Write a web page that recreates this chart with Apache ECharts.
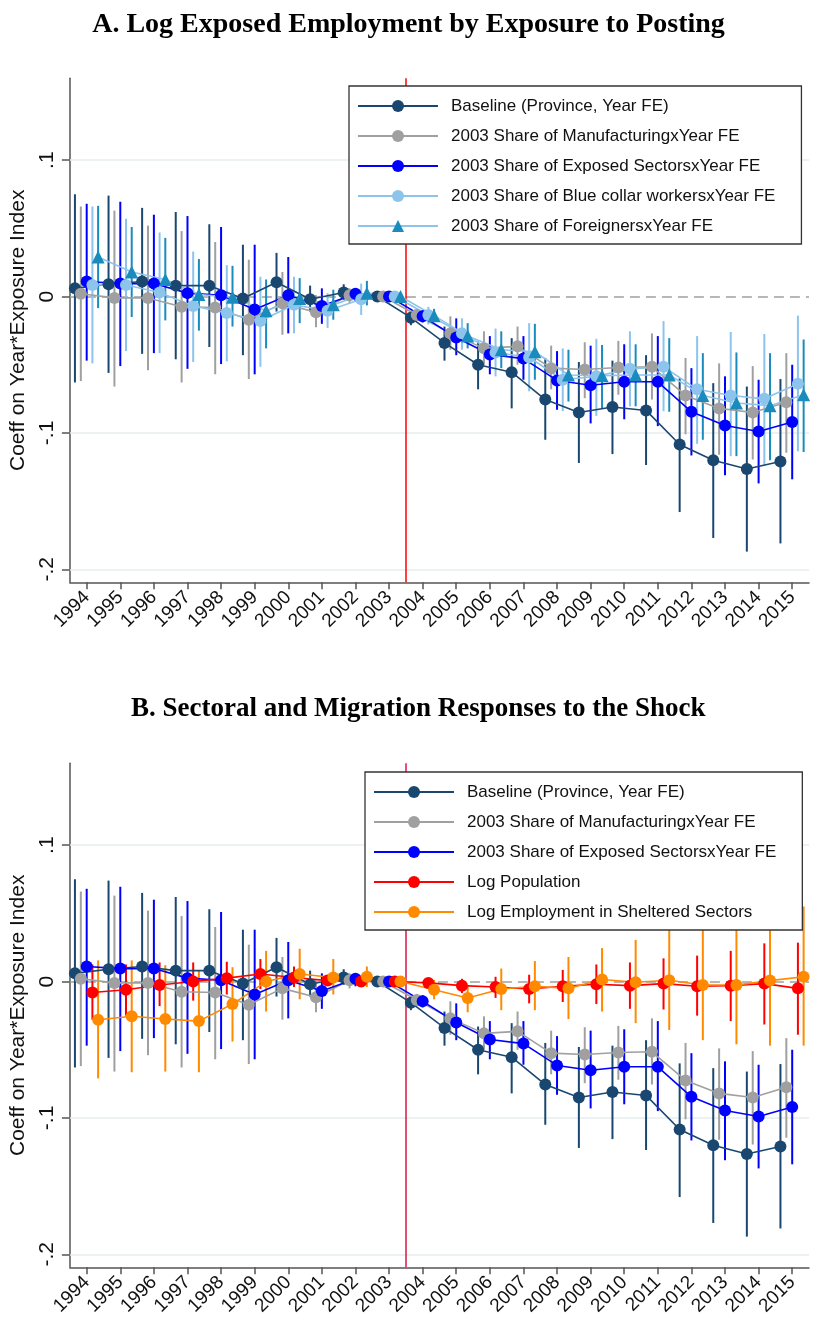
<!DOCTYPE html>
<html>
<head>
<meta charset="utf-8">
<script src="https://cdn.jsdelivr.net/npm/echarts@6/dist/echarts.min.js"></script>
<style>html,body{margin:0;padding:0;background:#fff;}#chart{width:817px;height:1320px;}</style>
</head>
<body>
<div id="chart"></div>
<script>
// ---- Data ----
const years = [1994,1995,1996,1997,1998,1999,2000,2001,2002,2003,2004,2005,2006,2007,2008,2009,2010,2011,2012,2013,2014,2015];
const yTicks = [-0.2, -0.1, 0, 0.1];

const baseCoef = [0.006,0.009,0.011,0.008,0.008,-0.0015,0.0105,-0.002,0.003,0,-0.0155,-0.034,-0.050,-0.0555,-0.0755,-0.085,-0.081,-0.0835,-0.1085,-0.120,-0.1265,-0.121];
const baseHi   = [0.075,0.074,0.065,0.062,0.053,0.038,0.032,0.008,0.009,0,-0.011,-0.022,-0.033,-0.0305,-0.045,-0.048,-0.047,-0.043,-0.060,-0.0635,-0.066,-0.0605];
const baseLo   = [-0.063,-0.056,-0.042,-0.046,-0.037,-0.043,-0.011,-0.011,-0.0025,0,-0.021,-0.047,-0.068,-0.082,-0.105,-0.122,-0.1155,-0.1235,-0.158,-0.177,-0.187,-0.181];

const manuCoef = [0.002,-0.001,-0.001,-0.0075,-0.008,-0.017,-0.005,-0.0115,0.001,0,-0.0135,-0.027,-0.038,-0.0365,-0.0525,-0.0535,-0.052,-0.0515,-0.0725,-0.082,-0.085,-0.0775];
const manuHi   = [0.066,0.063,0.052,0.048,0.040,0.027,0.018,0.001,0.006,0,-0.009,-0.0145,-0.0255,-0.022,-0.036,-0.0335,-0.0325,-0.027,-0.045,-0.049,-0.051,-0.0415];
const manuLo   = [-0.062,-0.066,-0.054,-0.063,-0.057,-0.0605,-0.028,-0.0225,-0.005,0,-0.018,-0.039,-0.050,-0.050,-0.068,-0.0745,-0.072,-0.0755,-0.101,-0.116,-0.1195,-0.1145];

const expoCoef = [0.011,0.0095,0.0095,0.0025,0.001,-0.0095,0.001,-0.007,0.002,0,-0.0145,-0.030,-0.0425,-0.0455,-0.0615,-0.065,-0.0625,-0.0625,-0.0845,-0.0945,-0.099,-0.092];
const expoHi   = [0.068,0.0695,0.060,0.059,0.051,0.038,0.029,0.006,0.005,0,-0.010,-0.016,-0.029,-0.029,-0.040,-0.036,-0.035,-0.029,-0.0525,-0.0585,-0.061,-0.050];
const expoLo   = [-0.047,-0.051,-0.0415,-0.053,-0.0495,-0.057,-0.027,-0.020,-0.0035,0,-0.019,-0.043,-0.057,-0.061,-0.083,-0.093,-0.090,-0.095,-0.1165,-0.131,-0.137,-0.134];

const blueCoef = [0.0085,0.0085,0.003,-0.007,-0.012,-0.018,-0.006,-0.0105,-0.002,0,-0.0135,-0.027,-0.041,-0.0445,-0.061,-0.0585,-0.053,-0.0515,-0.068,-0.0725,-0.075,-0.064];
const blueHi   = [0.066,0.057,0.047,0.033,0.023,0.0145,0.0145,0.0025,0.0095,0,-0.0075,-0.016,-0.0235,-0.0195,-0.038,-0.031,-0.0255,-0.018,-0.029,-0.026,-0.0275,-0.014];
const blueLo   = [-0.049,-0.040,-0.0415,-0.048,-0.0475,-0.0515,-0.027,-0.023,-0.0135,0,-0.0205,-0.039,-0.0585,-0.0695,-0.084,-0.0875,-0.0805,-0.084,-0.108,-0.117,-0.1235,-0.1135];

const forCoef  = [0.029,0.018,0.0125,0.0015,-0.0005,-0.0105,-0.0015,-0.006,0.0025,0,-0.014,-0.029,-0.039,-0.0405,-0.0575,-0.058,-0.0575,-0.0575,-0.0725,-0.078,-0.080,-0.072];
const forHi    = [0.0665,0.051,0.043,0.0275,0.0225,0.0125,0.0135,0.005,0.0115,0,-0.009,-0.0195,-0.0255,-0.020,-0.039,-0.0355,-0.035,-0.0305,-0.0415,-0.041,-0.0415,-0.0315];
const forLo    = [-0.0085,-0.015,-0.0175,-0.025,-0.022,-0.038,-0.0195,-0.017,-0.0065,0,-0.0185,-0.038,-0.0525,-0.061,-0.077,-0.082,-0.0805,-0.0845,-0.105,-0.117,-0.120,-0.114];

const popCoef  = [-0.008,-0.006,-0.0025,0.0,0.0025,0.0055,0.003,0.0007,0.0,0,-0.001,-0.003,-0.004,-0.0055,-0.0035,-0.002,-0.003,-0.0015,-0.0035,-0.003,-0.0015,-0.005];
const popHi    = [0.0125,0.0125,0.014,0.014,0.0145,0.0165,0.011,0.004,0.003,0,0.002,0.002,0.0035,0.005,0.0085,0.0125,0.014,0.017,0.019,0.0225,0.028,0.0285];
const popLo    = [-0.028,-0.025,-0.018,-0.014,-0.0095,-0.0055,-0.004,-0.003,-0.003,0,-0.004,-0.0085,-0.012,-0.016,-0.015,-0.0165,-0.020,-0.0205,-0.025,-0.029,-0.0315,-0.039];

const shelCoef = [-0.028,-0.0255,-0.0275,-0.029,-0.0165,0.0,0.0055,0.003,0.0035,0,-0.006,-0.012,-0.0055,-0.0035,-0.005,0.0015,-0.0005,0.001,-0.0025,-0.0025,0.0007,0.0035];
const shelHi   = [0.0155,0.0155,0.012,0.008,0.0105,0.0225,0.024,0.0165,0.011,0,0.0012,-0.0025,0.0095,0.015,0.018,0.0245,0.0305,0.0415,0.045,0.044,0.0515,0.055];
const shelLo   = [-0.071,-0.0665,-0.066,-0.0665,-0.044,-0.022,-0.013,-0.0095,-0.004,0,-0.013,-0.0225,-0.021,-0.021,-0.0275,-0.022,-0.0305,-0.0355,-0.043,-0.046,-0.047,-0.047];

const nameBase = 'Baseline (Province, Year FE)';
const nameManu = '2003 Share of ManufacturingxYear FE';
const nameExpo = '2003 Share of Exposed SectorsxYear FE';
const nameBlue = '2003 Share of Blue collar workersxYear FE';
const nameFor  = '2003 Share of ForeignersxYear FE';
const namePop  = 'Log Population';
const nameShel = 'Log Employment in Sheltered Sectors';

// ---- Styling ----
const C = {
  base: '#1a476f', manu: '#a0a0a0', expo: '#0000ff', blue: '#8dc4ec', forM: '#1a8bbd',
  pop: '#ff0000', shel: '#ff8a00'
};
const OFF = [-0.35, -0.175, 0, 0.17, 0.34];
const FONT = 'Liberation Sans, Arial, Helvetica, sans-serif';
const SERIF = 'Liberation Serif, Times New Roman, serif';

function pts(coef, off) { return years.map((y, i) => [y + off, coef[i]]); }
function bars(lo, hi, off) { return years.map((y, i) => [y + off, lo[i], hi[i]]); }

function barSeries(lo, hi, off, color, gi) {
  return {
    type: 'custom', xAxisIndex: gi, yAxisIndex: gi, silent: true, z: 3,
    data: bars(lo, hi, off),
    encode: { x: 0, y: [1, 2] },
    renderItem: function (params, api) {
      const a = api.coord([api.value(0), api.value(1)]);
      const b = api.coord([api.value(0), api.value(2)]);
      if (Math.abs(a[1] - b[1]) < 0.5) return null;
      return { type: 'line', shape: { x1: a[0], y1: a[1], x2: b[0], y2: b[1] },
               style: { stroke: color, lineWidth: 2 } };
    }
  };
}
function lineSeries(name, coef, off, lineColor, markColor, symbol, gi) {
  return {
    type: 'line', name: name, xAxisIndex: gi, yAxisIndex: gi, z: 4,
    data: pts(coef, off),
    symbol: symbol, symbolSize: symbol === 'triangle' ? 13 : 12,
    lineStyle: { color: lineColor, width: 1.6 },
    itemStyle: { color: markColor },
    emphasis: { disabled: true }
  };
}
function refSeries(gi, redColor) {
  return {
    type: 'line', xAxisIndex: gi, yAxisIndex: gi, data: [], silent: true, z: 1,
    markLine: {
      silent: true, z: 1, symbol: ['none', 'none'], label: { show: false }, animation: false,
      data: [
        { yAxis: -0.2, lineStyle: { color: '#e6eef0', width: 1.5, type: 'solid' } },
        { yAxis: -0.1, lineStyle: { color: '#e6eef0', width: 1.5, type: 'solid' } },
        { yAxis: 0.1, lineStyle: { color: '#e6eef0', width: 1.5, type: 'solid' } },
        { yAxis: 0, lineStyle: { color: '#a0a0a0', width: 1.7, type: [10, 6] } },
        { xAxis: 2003.5, lineStyle: { color: redColor, width: 1.5, type: 'solid' } }
      ]
    }
  };
}
function fmtY(v) {
  if (Math.abs(v) < 1e-9) return '0';
  const s = (Math.round(Math.abs(v) * 10) / 10).toString().replace(/^0/, '');
  return (v < 0 ? '-' : '') + s;
}
function xAxis(gi) {
  return {
    gridIndex: gi, type: 'value', min: 1993.5, max: 2015.5,
    axisLine: { show: true, onZero: false, lineStyle: { color: '#555', width: 1.5 } },
    axisTick: { show: true, customValues: years, length: 7, lineStyle: { color: '#555', width: 1.5 } },
    axisLabel: { customValues: years, rotate: 45, fontSize: 19, color: '#111', margin: 12, fontFamily: FONT,
                 formatter: function (v) { return String(Math.round(v)); } },
    splitLine: { show: false }
  };
}
function yAxis(gi) {
  return {
    gridIndex: gi, type: 'value', min: -0.2095, max: 0.16,
    axisLine: { show: true, onZero: false, lineStyle: { color: '#555', width: 1.5 } },
    axisTick: { show: true, customValues: yTicks, length: 8, lineStyle: { color: '#555', width: 1.5 } },
    axisLabel: { customValues: yTicks, rotate: 90, fontSize: 21, color: '#111', margin: 12, fontFamily: FONT, formatter: fmtY },
    splitLine: { show: false },
    name: 'Coeff on Year*Exposure Index', nameLocation: 'middle', nameGap: 35,
    nameTextStyle: { fontSize: 21, color: '#111', fontFamily: FONT }
  };
}
function legend(names, left, top, padRight) {
  return {
    data: names, orient: 'vertical', left: left, top: top, z: 10,
    padding: [11, padRight, 9, 8], itemWidth: 80, itemHeight: 15, itemGap: 12,
    borderColor: '#333', borderWidth: 1.3, backgroundColor: '#fff', selectedMode: false,
    textStyle: { fontSize: 17, color: '#111', fontFamily: FONT, lineHeight: 18, padding: [0, 0, 0, 8] }
  };
}

const series = [
  refSeries(0, '#ff0000'),
  barSeries(baseLo, baseHi, OFF[0], C.base, 0), lineSeries(nameBase, baseCoef, OFF[0], C.base, C.base, 'circle', 0),
  barSeries(manuLo, manuHi, OFF[1], C.manu, 0), lineSeries(nameManu, manuCoef, OFF[1], C.manu, C.manu, 'circle', 0),
  barSeries(expoLo, expoHi, OFF[2], C.expo, 0), lineSeries(nameExpo, expoCoef, OFF[2], C.expo, C.expo, 'circle', 0),
  barSeries(blueLo, blueHi, OFF[3], C.blue, 0), lineSeries(nameBlue, blueCoef, OFF[3], C.blue, C.blue, 'circle', 0),
  barSeries(forLo, forHi, OFF[4], C.forM, 0), lineSeries(nameFor, forCoef, OFF[4], C.blue, C.forM, 'triangle', 0),

  refSeries(1, '#d8173f'),
  barSeries(baseLo, baseHi, OFF[0], C.base, 1), lineSeries(nameBase, baseCoef, OFF[0], C.base, C.base, 'circle', 1),
  barSeries(manuLo, manuHi, OFF[1], C.manu, 1), lineSeries(nameManu, manuCoef, OFF[1], C.manu, C.manu, 'circle', 1),
  barSeries(expoLo, expoHi, OFF[2], C.expo, 1), lineSeries(nameExpo, expoCoef, OFF[2], C.expo, C.expo, 'circle', 1),
  barSeries(popLo, popHi, OFF[3], C.pop, 1), lineSeries(namePop, popCoef, OFF[3], C.pop, C.pop, 'circle', 1),
  barSeries(shelLo, shelHi, OFF[4], C.shel, 1), lineSeries(nameShel, shelCoef, OFF[4], C.shel, C.shel, 'circle', 1)
];

const option = {
  animation: false,
  backgroundColor: '#fff',
  title: [
    { text: 'A. Log Exposed Employment by Exposure to Posting', left: 'center', top: 11, padding: 0,
      textStyle: { fontFamily: SERIF, fontWeight: 'bold', fontSize: 28, color: '#000' } },
    { text: 'B. Sectoral and Migration Responses to the Shock', left: 131, top: 696, padding: 0,
      textStyle: { fontFamily: SERIF, fontWeight: 'bold', fontSize: 27, color: '#000' } }
  ],
  grid: [
    { left: 69, top: 78.3, width: 740, height: 504 },
    { left: 69, top: 763.3, width: 740, height: 504 }
  ],
  xAxis: [xAxis(0), xAxis(1)],
  yAxis: [yAxis(0), yAxis(1)],
  legend: [
    legend([nameBase, nameManu, nameExpo, nameBlue, nameFor], 349, 86, 26),
    legend([nameBase, nameManu, nameExpo, namePop, nameShel], 365, 772, 26)
  ],
  series: series
};

const chart = echarts.init(document.getElementById('chart'), null, { renderer: 'canvas' });
chart.setOption(option);
</script>
</body>
</html>
